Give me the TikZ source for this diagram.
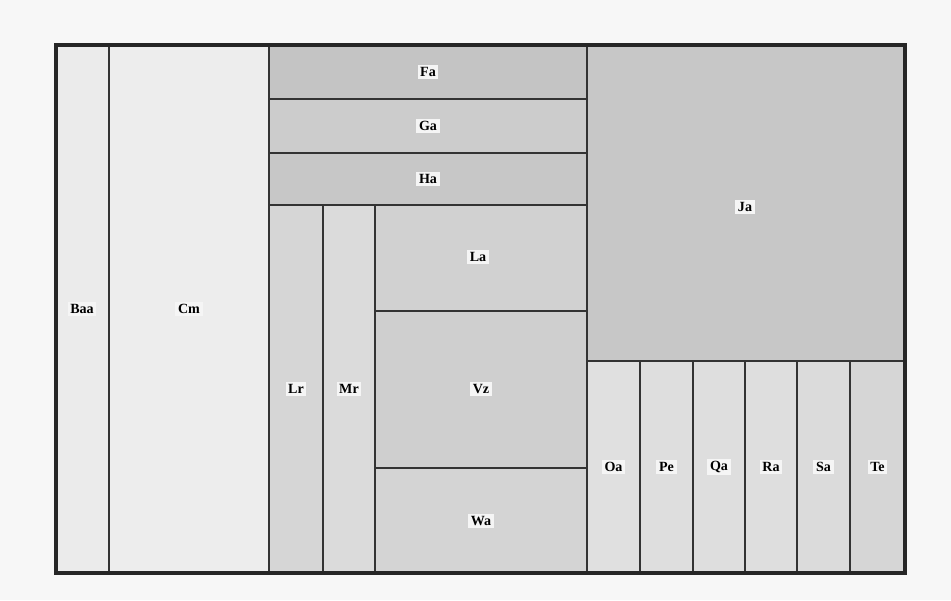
\documentclass[tikz,border=0pt]{standalone}
\usepackage{fontspec}
\setmainfont{Liberation Serif}
\usepackage{tikz}

\tikzset{
    cell/.style={draw=black!80, line width=1.2pt},
    lab/.style={fill=black!4, inner sep=1.5pt, font=\fontsize{8}{9}\selectfont\bfseries},
    frame/.style={draw=black!85, line width=2.6pt}
}

\begin{document}
\begin{tikzpicture}[x=0.02cm, y=-0.02cm]

    \fill[black!3] (0,0) rectangle (951,600); % page
    \useasboundingbox (0,0) rectangle (951,600);

    % left columns
    \filldraw[cell, fill=black!8] (56,45) rectangle (109,573);
    \filldraw[cell, fill=black!7] (109,45) rectangle (269,573);
    \node[lab] (ba) at (82,309) {Baa};
    \node[lab] (cm) at (189,309) {Cm};

    % top stripes
    \filldraw[cell, fill=black!23] (269,45) rectangle (587,99);
    \filldraw[cell, fill=black!20] (269,99) rectangle (587,153);
    \filldraw[cell, fill=black!22] (269,153) rectangle (587,205);
    \node[lab] (fa) at (428,72) {Fa};
    \node[lab] (ga) at (428,126) {Ga};
    \node[lab] (ha) at (428,179) {Ha};

    % narrow columns
    \filldraw[cell, fill=black!16] (269,205) rectangle (323,573);
    \filldraw[cell, fill=black!14] (323,205) rectangle (375,573);
    \node[lab] (lr) at (296,389) {Lr};
    \node[lab] (mr) at (349,389) {Mr};

    % middle block
    \filldraw[cell, fill=black!18] (375,205) rectangle (587,311);
    \filldraw[cell, fill=black!19] (375,311) rectangle (587,468);
    \filldraw[cell, fill=black!17] (375,468) rectangle (587,573);
    \node[lab] (la) at (478,257) {La};
    \node[lab] (vz) at (481,389) {Vz};
    \node[lab] (wa) at (481,521) {Wa};

    % right side
    \filldraw[cell, fill=black!22] (587,45) rectangle (905,361);
    \node[lab] (ja) at (745,207) {Ja};
    \foreach \xa/\xb/\name/\txt/\shade in {587/640/oa/Oa/12, 640/693/pe/Pe/13, 693/745/qa/Qa/13,
            745/797/ra/Ra/13, 797/850/sa/Sa/14, 850/905/te/Te/16} {
        \filldraw[cell, fill=black!\shade] (\xa,361) rectangle (\xb,573);
        \node[lab] (\name) at ({(\xa+\xb)/2},467) {\txt};
    }

    \draw[frame] (56,45) rectangle (905,573); % outer frame
\end{tikzpicture}
\end{document}
